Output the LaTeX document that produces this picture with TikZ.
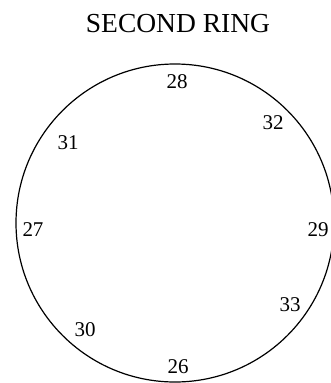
\documentclass[tikz,border=0pt]{standalone}
\usepackage{fontspec}
\setmainfont{Liberation Serif}
\usetikzlibrary{positioning}

\begin{document}
\begin{tikzpicture}[x=1pt,y=-1pt,
  ring/.style={draw,circle,line width=1.2pt,minimum size=318pt,inner sep=0pt},
  num/.style={font=\fontsize{21}{21}\selectfont,inner sep=0pt},
  title/.style={font=\fontsize{27.5}{27.5}\selectfont,inner sep=0pt}]
\useasboundingbox (0,0) rectangle (331,383);
\node[title] (head) at (178,24) {SECOND RING};
\node[ring] (ring) at (175,223) {};
\node[num] (n28) at (177,82) {28};
\node[num] (n32) at (273,123) {32};
\node[num] (n31) at (68,143) {31};
\node[num] (n27) at (33,230) {27};
\node[num] (n29) at (318,230) {29};
\node[num] (n33) at (290,305) {33};
\node[num] (n30) at (85,330) {30};
\node[num] (n26) at (178,367) {26};
\end{tikzpicture}
\end{document}
